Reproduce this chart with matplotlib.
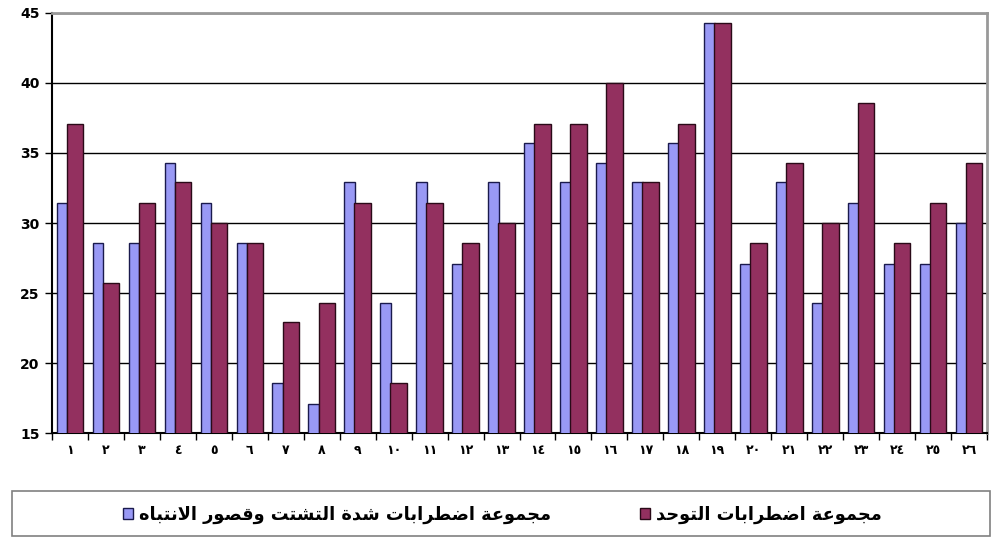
import numpy as np
import matplotlib
matplotlib.use('Agg')
import matplotlib.pyplot as plt
from matplotlib.patches import Patch, Rectangle


# values (multiples of 1/70 as percentages)
groups = list(range(1, 27))
adhd = [31.4, 28.6, 28.6, 34.3, 31.4, 28.6, 18.6, 17.1, 32.9, 24.3, 32.9, 27.1, 32.9,
        35.7, 32.9, 34.3, 32.9, 35.7, 44.3, 27.1, 32.9, 24.3, 31.4, 27.1, 27.1, 30.0]
autism = [37.1, 25.7, 31.4, 32.9, 30.0, 28.6, 22.9, 24.3, 31.4, 18.6, 31.4, 28.6, 30.0,
          37.1, 37.1, 40.0, 32.9, 37.1, 44.3, 28.6, 34.3, 30.0, 38.6, 28.6, 31.4, 34.3]
label_adhd = 'مجموعة اضطرابات شدة التشتت وقصور الانتباه'
label_autism = 'مجموعة اضطرابات التوحد'
yticks = [15, 20, 25, 30, 35, 40, 45]

AR_DIGITS = '٠١٢٣٤٥٦٧٨٩'

# presentation forms: isolated, final, initial, medial
FORMS = {
    'ا': (0xFE8D, 0xFE8E, None, None),
    'ب': (0xFE8F, 0xFE90, 0xFE91, 0xFE92),
    'ة': (0xFE93, 0xFE94, None, None),
    'ت': (0xFE95, 0xFE96, 0xFE97, 0xFE98),
    'ج': (0xFE9D, 0xFE9E, 0xFE9F, 0xFEA0),
    'ح': (0xFEA1, 0xFEA2, 0xFEA3, 0xFEA4),
    'د': (0xFEA9, 0xFEAA, None, None),
    'ر': (0xFEAD, 0xFEAE, None, None),
    'ش': (0xFEB5, 0xFEB6, 0xFEB7, 0xFEB8),
    'ص': (0xFEB9, 0xFEBA, 0xFEBB, 0xFEBC),
    'ض': (0xFEBD, 0xFEBE, 0xFEBF, 0xFEC0),
    'ط': (0xFEC1, 0xFEC2, 0xFEC3, 0xFEC4),
    'ع': (0xFEC9, 0xFECA, 0xFECB, 0xFECC),
    'ق': (0xFED5, 0xFED6, 0xFED7, 0xFED8),
    'ل': (0xFEDD, 0xFEDE, 0xFEDF, 0xFEE0),
    'م': (0xFEE1, 0xFEE2, 0xFEE3, 0xFEE4),
    'ن': (0xFEE5, 0xFEE6, 0xFEE7, 0xFEE8),
    'ه': (0xFEE9, 0xFEEA, 0xFEEB, 0xFEEC),
    'و': (0xFEED, 0xFEEE, None, None),
}


def shape(text):
    # join arabic letters and put them in visual (right to left) order
    out = []
    i = 0
    n = len(text)
    while i < n:
        c = text[i]
        if c not in FORMS:
            out.append(c)
            i += 1
            continue
        prev = text[i - 1] if i > 0 else ''
        join_prev = prev in FORMS and FORMS[prev][2] is not None
        if c == 'ل' and i + 1 < n and text[i + 1] == 'ا':
            out.append('\ufefc' if join_prev else '\ufefb')
            i += 2
            continue
        nxt = text[i + 1] if i + 1 < n else ''
        join_next = FORMS[c][2] is not None and nxt in FORMS
        idx = (1 if join_prev else 0) + (2 if join_next else 0)
        out.append(chr(FORMS[c][idx]))
        i += 1
    return ''.join(out)[::-1]


def ar_num(k):
    return ''.join(AR_DIGITS[int(d)] for d in str(k))


fig = plt.figure(figsize=(9.93, 5.41), dpi=100)
ax = fig.add_axes([0.0524, 0.1996, 0.9416, 0.7764])

x = np.array(groups)
ax.bar(x - 0.37, adhd, 0.30, align='edge', color='#9999f5', edgecolor='#1a1a4d', linewidth=1.0, zorder=3)
ax.bar(x - 0.09, autism, 0.46, align='edge', color='#93305f', edgecolor='#2a0a18', linewidth=1.0, zorder=4)

ax.set_xlim(0.5, 26.5)
ax.set_ylim(15, 45)
ax.set_yticks(yticks)
ax.set_yticklabels([str(t) for t in yticks], fontsize=10, fontweight='bold')
ax.yaxis.grid(True, color='black', linewidth=1.0, zorder=0)

ax.set_xticks(x)
ax.set_xticklabels([ar_num(k) for k in groups], fontsize=9, fontweight='bold')
ax.set_xticks(np.arange(0.5, 27, 1), minor=True)
ax.tick_params(axis='x', which='major', length=0, pad=8)
ax.tick_params(axis='x', which='minor', length=5, width=1, direction='out')
ax.tick_params(axis='y', length=5, width=1, direction='out', pad=4)

ax.spines['left'].set_color('black')
ax.spines['bottom'].set_color('black')
ax.spines['left'].set_linewidth(1.5)
ax.spines['bottom'].set_linewidth(1.5)
ax.spines['top'].set_color('#999999')
ax.spines['right'].set_color('#999999')
ax.spines['top'].set_linewidth(2)
ax.spines['right'].set_linewidth(2)

# legend frame
fig.patches.append(Rectangle((12 / 993, 5 / 541), 978 / 993, 45 / 541, transform=fig.transFigure,
                             facecolor='white', edgecolor='#808080', linewidth=1.2))
handles = [Patch(facecolor='#9999f5', edgecolor='#1a1a4d'),
           Patch(facecolor='#93305f', edgecolor='#2a0a18')]
fig.legend(handles, [shape(label_adhd), shape(label_autism)], loc='center',
           bbox_to_anchor=(502 / 993, 26 / 541), ncol=2, frameon=False,
           prop={'size': 12.8, 'weight': 'bold'}, handlelength=0.6, handleheight=0.6,
           handletextpad=0.3, columnspacing=5)

fig.savefig('out.png', dpi=100)
